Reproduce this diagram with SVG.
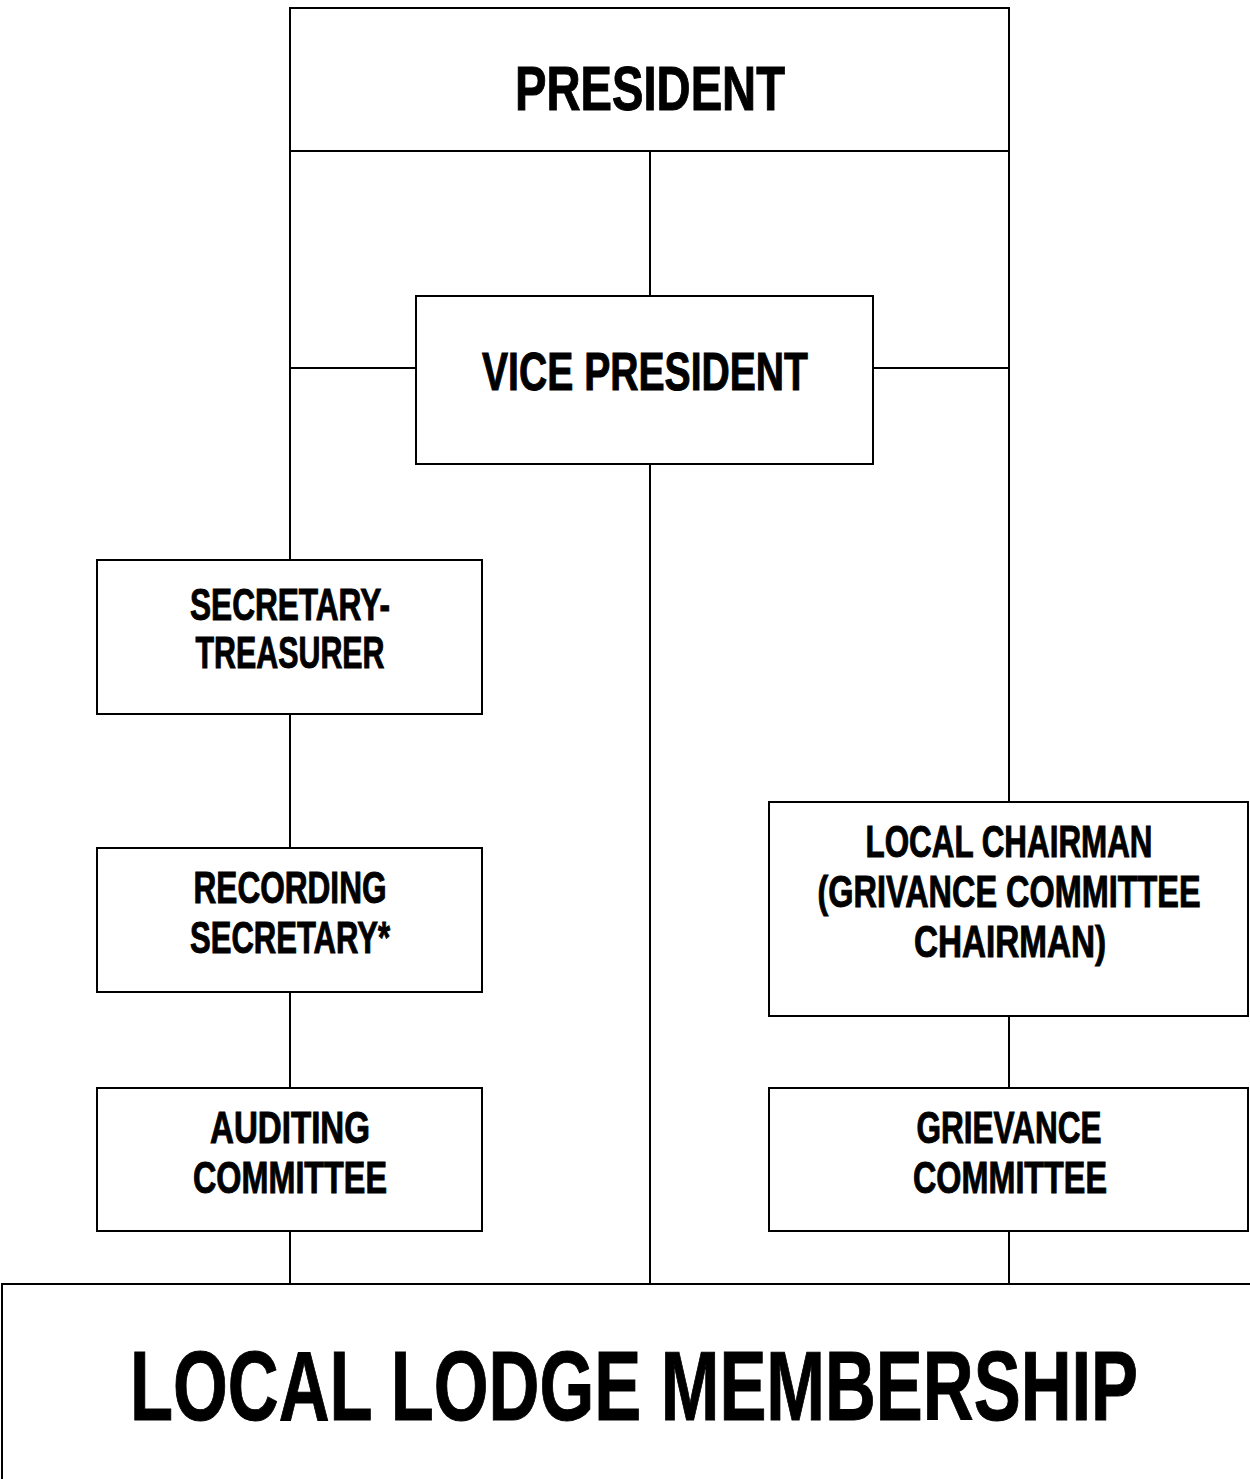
<svg xmlns="http://www.w3.org/2000/svg" width="1250" height="1479" viewBox="0 0 1250 1479">
<style>
.box{fill:#fff;stroke:#000;stroke-width:2}
.ln{stroke:#000;stroke-width:2;fill:none}
text{font-family:"Liberation Sans",Arial,sans-serif;font-weight:bold;fill:#000;text-anchor:middle;stroke:#000;stroke-width:1}
.s{font-size:45px}
</style>
<rect width="1250" height="1479" fill="#fff"/>
<g id="connectors">
<line class="ln" x1="290" y1="151" x2="290" y2="560"/>
<line class="ln" x1="1009" y1="151" x2="1009" y2="802"/>
<line class="ln" x1="650" y1="151" x2="650" y2="296"/>
<line class="ln" x1="290" y1="368" x2="416" y2="368"/>
<line class="ln" x1="873" y1="368" x2="1009" y2="368"/>
<line class="ln" x1="650" y1="464" x2="650" y2="1284"/>
<line class="ln" x1="290" y1="714" x2="290" y2="848"/>
<line class="ln" x1="290" y1="992" x2="290" y2="1088"/>
<line class="ln" x1="290" y1="1231" x2="290" y2="1284"/>
<line class="ln" x1="1009" y1="1016" x2="1009" y2="1088"/>
<line class="ln" x1="1009" y1="1231" x2="1009" y2="1284"/>
</g>
<g id="president">
<rect class="box" x="290" y="8" width="719" height="143"/>
<text transform="translate(650,110) scale(0.749,1)" font-size="63" stroke-width="1.6" textLength="360.5" lengthAdjust="spacingAndGlyphs">PRESIDENT</text>
</g>
<g id="vice-president">
<rect class="box" x="416" y="296" width="457" height="168"/>
<text transform="translate(645,390) scale(0.738,1)" font-size="53" stroke-width="1.4" textLength="441.7" lengthAdjust="spacingAndGlyphs">VICE PRESIDENT</text>
</g>
<g id="secretary-treasurer">
<rect class="box" x="97" y="560" width="385" height="154"/>
<text class="s" transform="translate(290,620) scale(0.684,1)" textLength="292.4" lengthAdjust="spacingAndGlyphs">SECRETARY-</text>
<text class="s" transform="translate(290,668) scale(0.675,1)" textLength="280" lengthAdjust="spacingAndGlyphs">TREASURER</text>
</g>
<g id="recording-secretary">
<rect class="box" x="97" y="848" width="385" height="144"/>
<text class="s" transform="translate(290,903) scale(0.702,1)" textLength="274.9" lengthAdjust="spacingAndGlyphs">RECORDING</text>
<text class="s" transform="translate(290,953) scale(0.678,1)" textLength="295" lengthAdjust="spacingAndGlyphs">SECRETARY*</text>
</g>
<g id="auditing-committee">
<rect class="box" x="97" y="1088" width="385" height="143"/>
<text class="s" transform="translate(290,1143) scale(0.736,1)" textLength="217.4" lengthAdjust="spacingAndGlyphs">AUDITING</text>
<text class="s" transform="translate(290,1193) scale(0.719,1)" textLength="269.8" lengthAdjust="spacingAndGlyphs">COMMITTEE</text>
</g>
<g id="local-chairman">
<rect class="box" x="769" y="802" width="479" height="214"/>
<text class="s" transform="translate(1009,857) scale(0.696,1)" textLength="412.4" lengthAdjust="spacingAndGlyphs">LOCAL CHAIRMAN</text>
<text class="s" transform="translate(1009,907) scale(0.716,1)" textLength="534.9" lengthAdjust="spacingAndGlyphs">(GRIVANCE COMMITTEE</text>
<text class="s" transform="translate(1010,957) scale(0.739,1)" textLength="259.8" lengthAdjust="spacingAndGlyphs">CHAIRMAN)</text>
</g>
<g id="grievance-committee">
<rect class="box" x="769" y="1088" width="479" height="143"/>
<text class="s" transform="translate(1009,1143) scale(0.692,1)" textLength="267.3" lengthAdjust="spacingAndGlyphs">GRIEVANCE</text>
<text class="s" transform="translate(1010,1193) scale(0.719,1)" textLength="269.8" lengthAdjust="spacingAndGlyphs">COMMITTEE</text>
</g>
<g id="local-lodge-membership">
<rect x="2" y="1284" width="1248" height="195" fill="#fff"/>
<path class="ln" d="M2,1479 V1284 H1250"/>
<text transform="translate(634,1420) scale(0.717,1)" font-size="98" stroke-width="2.4" textLength="1405.9" lengthAdjust="spacingAndGlyphs">LOCAL LODGE MEMBERSHIP</text>
</g>
</svg>
